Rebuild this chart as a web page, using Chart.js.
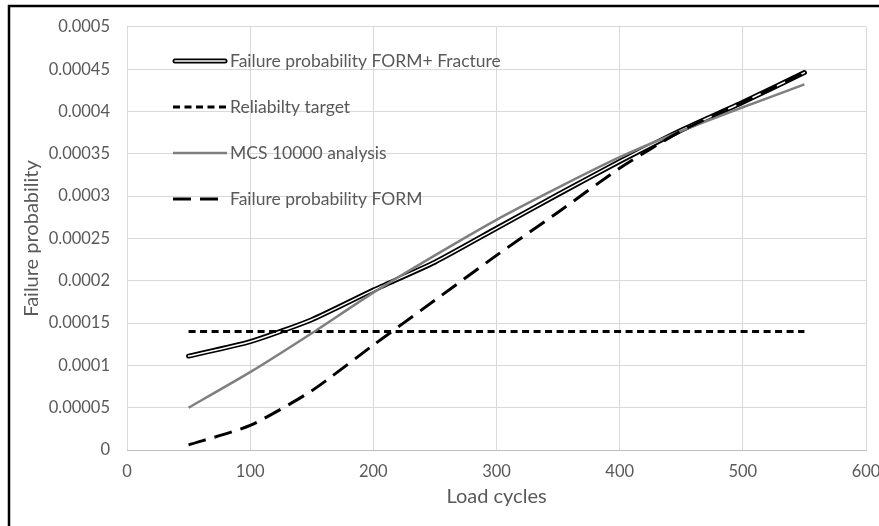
<!DOCTYPE html>
<html>
<head>
<meta charset="utf-8">
<script src="https://cdn.jsdelivr.net/npm/chart.js@4.4.1/dist/chart.umd.min.js"></script>
<style>
  html, body { margin: 0; padding: 0; background: #fff; }
  #wrap { width: 879px; height: 526px; }
</style>
</head>
<body>
<div id="wrap"><canvas id="myChart" width="879" height="526"></canvas></div>
<script>
// Values
const loadCycles = [50, 100, 150, 200, 250, 300, 350, 400, 450, 500, 550];
const formFracture = [0.000111, 0.000128, 0.000154, 0.000189, 0.000222, 0.000262, 0.000302, 0.000341, 0.000378, 0.000411, 0.000446];
const reliabilityTarget = [0.00014, 0.00014, 0.00014, 0.00014, 0.00014, 0.00014, 0.00014, 0.00014, 0.00014, 0.00014, 0.00014];
const mcsAnalysis = [0.000050, 0.000092, 0.000138, 0.000186, 0.000230, 0.000272, 0.000310, 0.000346, 0.000377, 0.000405, 0.000432];
const formOnly = [0.000006, 0.000029, 0.000070, 0.000124, 0.000177, 0.000230, 0.000281, 0.000333, 0.000377, 0.000411, 0.000446];

const xTicks = [0, 100, 200, 300, 400, 500, 600];
const yTicks = [0, 0.00005, 0.0001, 0.00015, 0.0002, 0.00025, 0.0003, 0.00035, 0.0004, 0.00045, 0.0005];
const yTickLabels = ['0', '0.00005', '0.0001', '0.00015', '0.0002', '0.00025', '0.0003', '0.00035', '0.0004', '0.00045', '0.0005'];

const FONT = 'Lato, "Open Sans", sans-serif';
const TEXT = '#595959';
const GRID = '#d9d9d9';

function pts(values) {
    return loadCycles.map((x, i) => ({ x: x, y: values[i] }));
}

// legend drawn inside the plot, top left, like the original
const insideLegend = {
    id: 'insideLegend',
    afterDatasetsDraw(chart) {
        const ctx = chart.ctx;
        const area = chart.chartArea;
        const x0 = area.left + 46;
        const len = 54;
        const items = [
            { text: 'Failure probability FORM+ Fracture', kind: 'double' },
            { text: 'Reliabilty target', kind: 'dash', dash: [7, 4.5], color: '#000', width: 3 },
            { text: 'MCS 10000 analysis', kind: 'solid', color: '#7f7f7f', width: 2.5 },
            { text: 'Failure probability FORM', kind: 'dash', dash: [18, 9], color: '#000', width: 3 }
        ];
        ctx.save();
        items.forEach((it, i) => {
            const y = area.top + 34 + i * 46;
            ctx.lineCap = 'butt';
            if (it.kind === 'double') {
                ctx.lineCap = 'round';
                ctx.setLineDash([]);
                ctx.strokeStyle = '#000';
                ctx.lineWidth = 5;
                ctx.beginPath(); ctx.moveTo(x0 + 2, y); ctx.lineTo(x0 + len - 2, y); ctx.stroke();
                ctx.strokeStyle = '#fff';
                ctx.lineWidth = 1.5;
                ctx.beginPath(); ctx.moveTo(x0 + 2, y); ctx.lineTo(x0 + len - 2, y); ctx.stroke();
            } else {
                ctx.setLineDash(it.dash || []);
                ctx.strokeStyle = it.color;
                ctx.lineWidth = it.width;
                ctx.beginPath(); ctx.moveTo(x0, y); ctx.lineTo(x0 + len, y); ctx.stroke();
            }
            ctx.setLineDash([]);
            ctx.fillStyle = TEXT;
            ctx.font = '17.5px ' + FONT;
            ctx.textAlign = 'left';
            ctx.textBaseline = 'middle';
            ctx.fillText(it.text, x0 + len + 3, y);
        });
        ctx.restore();
    }
};

// black frame on the left and top of the picture
const frame = {
    id: 'frame',
    afterDraw(chart) {
        const ctx = chart.ctx;
        ctx.save();
        ctx.strokeStyle = '#000';
        ctx.lineWidth = 2.5;
        ctx.strokeRect(9, 6, 890, 540);
        ctx.restore();
    }
};

const ctx = document.getElementById('myChart');
const myChart = new Chart(ctx, {
    type: 'line',
    data: {
        datasets: [
            {
                label: 'Failure probability FORM',
                data: pts(formOnly),
                borderColor: '#000',
                borderWidth: 3,
                borderDash: [18, 9],
                tension: 0.2,
                pointRadius: 0,
                order: 0
            },
            {
                label: 'MCS 10000 analysis',
                data: pts(mcsAnalysis),
                borderColor: '#7f7f7f',
                borderWidth: 2.5,
                tension: 0.2,
                pointRadius: 0,
                order: 1
            },
            {
                label: 'Reliabilty target',
                data: pts(reliabilityTarget),
                borderColor: '#000',
                borderWidth: 3,
                borderDash: [7, 4.5],
                pointRadius: 0,
                order: 2
            },
            {
                label: 'Failure probability FORM+ Fracture (inner)',
                data: pts(formFracture),
                borderColor: '#fff',
                borderWidth: 1.5,
                borderCapStyle: 'round',
                tension: 0.2,
                pointRadius: 0,
                order: 3
            },
            {
                label: 'Failure probability FORM+ Fracture',
                data: pts(formFracture),
                borderColor: '#000',
                borderWidth: 5,
                borderCapStyle: 'round',
                tension: 0.2,
                pointRadius: 0,
                order: 4
            }
        ]
    },
    options: {
        responsive: false,
        animation: false,
        layout: {
            padding: { left: 0, right: 13, top: 24, bottom: 0 }
        },
        plugins: {
            legend: { display: false },
            tooltip: { enabled: false }
        },
        scales: {
            x: {
                type: 'linear',
                min: 0,
                max: 600,
                afterBuildTicks: (scale) => { scale.ticks = xTicks.map(v => ({ value: v })); },
                afterFit: (scale) => {
                    scale.height = 76;
                    scale.paddingLeft = 0;
                    scale.paddingRight = 0;
                },
                grid: { color: GRID, drawTicks: false },
                border: { color: '#bfbfbf', width: 1 },
                ticks: {
                    color: TEXT,
                    padding: 12,
                    font: { family: FONT, size: 16.5 }
                },
                title: {
                    display: true,
                    text: 'Load cycles',
                    color: TEXT,
                    font: { family: FONT, size: 20 },
                    padding: { top: 0, bottom: 17 }
                }
            },
            y: {
                min: 0,
                max: 0.0005,
                afterBuildTicks: (scale) => { scale.ticks = yTicks.map(v => ({ value: v })); },
                afterFit: (scale) => { scale.width = 127; },
                grid: { color: GRID, drawTicks: false },
                border: { display: false },
                ticks: {
                    color: TEXT,
                    padding: 17,
                    font: { family: FONT, size: 16.5 },
                    callback: (value, index) => yTickLabels[index]
                },
                title: {
                    display: true,
                    text: 'Failure probability',
                    color: TEXT,
                    font: { family: FONT, size: 20 },
                    padding: { top: 20, bottom: 0 }
                }
            }
        }
    },
    plugins: [insideLegend, frame]
});
</script>
</body>
</html>
